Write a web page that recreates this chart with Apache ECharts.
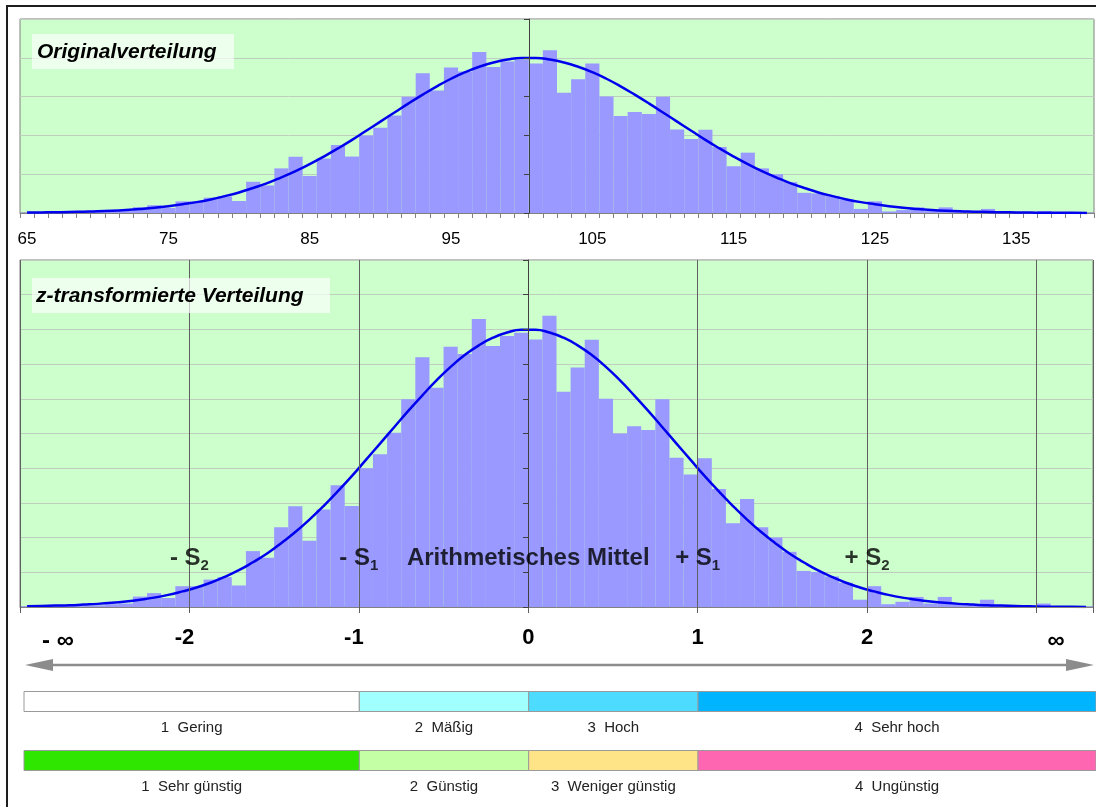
<!DOCTYPE html>
<html>
<head>
<meta charset="utf-8">
<script src="https://cdn.jsdelivr.net/npm/echarts@6/dist/echarts.min.js"></script>
<style>
html,body{margin:0;padding:0;background:#ffffff;}
#c{width:1096px;height:807px;}
</style>
</head>
<body>
<div id="c"></div>
<script>
// ---------- data ----------
const categories = [];
for (let v = 65; v <= 140; v++) categories.push(String(v));

const counts = [
  0.2, 0.2, 0.3, 0.3, 0.5, 0.5, 0.8, 1.0, 3.0, 4.0,
  2.6, 6.0, 6.0, 7.9, 8.6, 6.2, 16.1, 14.2, 23.0, 29.0,
  19.1, 28.1, 35.1, 29.1, 40.0, 44.0, 50.2, 59.9, 72.0, 63.2,
  75.0, 72.9, 83.0, 75.2, 78.1, 79.0, 77.1, 83.9, 62.0, 69.0,
  77.0, 60.0, 50.0, 52.1, 51.0, 59.9, 43.0, 38.2, 42.9, 34.0,
  24.1, 31.1, 23.0, 20.0, 15.9, 10.4, 10.1, 8.8, 7.0, 2.1,
  6.0, 0.8, 1.5, 2.9, 1.0, 2.9, 0.8, 0.5, 2.1, 0.5,
  0.2, 0.2, 1.0, 0.3, 0.2, 0.2
];

const normalCurve = [
  0.2, 0.3, 0.4, 0.5, 0.7, 0.9, 1.2, 1.6, 2.1, 2.7,
  3.5, 4.5, 5.6, 7.0, 8.7, 10.6, 12.9, 15.4, 18.4, 21.6,
  25.2, 29.1, 33.3, 37.7, 42.4, 47.1, 51.8, 56.5, 61.0, 65.3,
  69.2, 72.6, 75.4, 77.6, 79.1, 79.9, 79.9, 79.1, 77.6, 75.4,
  72.6, 69.2, 65.3, 61.0, 56.5, 51.8, 47.1, 42.4, 37.7, 33.3,
  29.1, 25.2, 21.6, 18.4, 15.4, 12.9, 10.6, 8.7, 7.0, 5.6,
  4.5, 3.5, 2.7, 2.1, 1.6, 1.2, 0.9, 0.7, 0.5, 0.4,
  0.3, 0.2, 0.1, 0.1, 0.1, 0.0
];

const zTickLabels = ['-2', '-1', '0', '1', '2'];
const annotZ = [-2, -1, 0, 1, 2];
const annotLevel = [14, 14, 14, 14, 14];
const annotText = ['- S', '- S', 'Arithmetisches Mittel', '+ S', '+ S'];
const annotSub = ['2', '1', '', '1', '2'];

const bandBounds = [-1, 0, 1];
const row1Labels = ['1  Gering', '2  Mäßig', '3  Hoch', '4  Sehr hoch'];
const row2Labels = ['1  Sehr günstig', '2  Günstig', '3  Weniger günstig', '4  Ungünstig'];

// ---------- styles ----------
const FONT = '"Liberation Sans", Arial, Helvetica, sans-serif';
const row1Colors = ['#ffffff', '#a0ffff', '#4ddcff', '#00b4ff'];
const row2Colors = ['#2ee600', '#c4ffa6', '#ffe487', '#ff66b2'];
const GRID_LINE = '#bfcfbf';
const BAR_COLOR = '#9999ff';
const CURVE_COLOR = '#0000ee';

// legend segments built from band bounds
const LEG_MIN = -2.98, LEG_MAX = 3.35;
const edges = [LEG_MIN].concat(bandBounds, [LEG_MAX]);
const legendData = [];
for (let r = 0; r < 2; r++) {
  for (let k = 0; k < 4; k++) {
    legendData.push([edges[k], edges[k + 1], r, k]);
  }
}

const chart = echarts.init(document.getElementById('c'), null, {renderer: 'canvas'});

const option = {
  backgroundColor: '#ffffff',
  animation: false,
  textStyle: {fontFamily: FONT},
  grid: [
    {left: 20, top: 19, width: 1074, height: 194, show: true, backgroundColor: '#ccffcc', borderColor: '#808080', borderWidth: 1},
    {left: 20, top: 260, width: 1074, height: 347, show: true, backgroundColor: '#ccffcc', borderColor: '#808080', borderWidth: 1},
    {left: 24, top: 672, width: 1072, height: 118, show: false}
  ],
  xAxis: [
    {
      gridIndex: 0, type: 'category', data: categories, boundaryGap: true, position: 'bottom',
      axisLine: {show: true, lineStyle: {color: '#808080', width: 1}},
      axisTick: {show: true, interval: 0, length: 5, lineStyle: {color: '#808080'}},
      axisLabel: {interval: 9, fontSize: 17, color: '#000', margin: 18, fontFamily: FONT},
      splitLine: {show: false}
    },
    {
      gridIndex: 1, type: 'category', data: categories, boundaryGap: true, position: 'top',
      axisLine: {show: false}, axisTick: {show: false}, axisLabel: {show: false}, splitLine: {show: false}
    },
    {
      gridIndex: 1, type: 'value', min: -3, max: 40 / 12, interval: 1, position: 'bottom', z: 5,
      axisLine: {show: true, lineStyle: {color: '#808080', width: 1}},
      axisTick: {show: true, length: 6, lineStyle: {color: '#606060'}},
      axisLabel: {
        margin: 20, color: '#000',
        formatter: function (v) {
          const i = annotZ.indexOf(Math.round(v));
          if (Math.abs(v - Math.round(v)) > 1e-6 || i < 0) return '';
          return (v < 0 ? '{n|' : '{p|') + zTickLabels[i] + '}';
        },
        rich: {
          n: {fontSize: 22, fontWeight: 'bold', color: '#000', fontFamily: FONT, padding: [0, 10, 0, 0]},
          p: {fontSize: 22, fontWeight: 'bold', color: '#000', fontFamily: FONT}
        }
      },
      splitLine: {show: true, lineStyle: {color: '#606060', width: 1}}
    },
    {gridIndex: 2, type: 'value', min: LEG_MIN, max: LEG_MAX, show: false, splitLine: {show: false}}
  ],
  yAxis: [
    {
      gridIndex: 0, type: 'value', min: 0, max: 100, interval: 20, position: 'left',
      axisLine: {show: false}, axisTick: {show: false}, axisLabel: {show: false},
      splitLine: {show: true, lineStyle: {color: GRID_LINE, width: 1}}
    },
    {
      gridIndex: 0, type: 'value', min: 0, max: 100, interval: 20, position: 'right', offset: -565, z: 6,
      axisLine: {show: true, lineStyle: {color: '#404040', width: 1}},
      axisTick: {show: true, inside: true, length: 5, lineStyle: {color: '#404040'}},
      axisLabel: {show: false}, splitLine: {show: false}
    },
    {
      gridIndex: 1, type: 'value', min: 0, max: 100, interval: 10, position: 'left',
      axisLine: {show: false}, axisTick: {show: false}, axisLabel: {show: false},
      splitLine: {show: true, lineStyle: {color: GRID_LINE, width: 1}}
    },
    {
      gridIndex: 1, type: 'value', min: 0, max: 100, interval: 10, position: 'right', offset: -565, z: 6,
      axisLine: {show: true, lineStyle: {color: '#404040', width: 1}},
      axisTick: {show: true, inside: true, length: 5, lineStyle: {color: '#404040'}},
      axisLabel: {show: false}, splitLine: {show: false}
    },
    {gridIndex: 2, type: 'category', data: ['Stufe', 'Bewertung'], inverse: true, show: false}
  ],
  series: [
    {
      type: 'bar', xAxisIndex: 0, yAxisIndex: 0, data: counts, barCategoryGap: '0%',
      itemStyle: {color: BAR_COLOR}, z: 2
    },
    {
      type: 'line', xAxisIndex: 0, yAxisIndex: 0, data: normalCurve, smooth: true, showSymbol: false, symbol: 'none',
      lineStyle: {color: CURVE_COLOR, width: 2.5}, z: 4
    },
    {
      type: 'bar', xAxisIndex: 1, yAxisIndex: 2, data: counts, barCategoryGap: '0%',
      itemStyle: {color: BAR_COLOR}, z: 2
    },
    {
      type: 'line', xAxisIndex: 1, yAxisIndex: 2, data: normalCurve, smooth: true, showSymbol: false, symbol: 'none',
      lineStyle: {color: CURVE_COLOR, width: 2.5}, z: 4
    },
    {
      type: 'scatter', xAxisIndex: 2, yAxisIndex: 2, symbolSize: 0, z: 10,
      data: annotZ.map(function (z, i) { return [z, annotLevel[i]]; }),
      label: {
        show: true, position: 'inside', color: '#000', textBorderWidth: 0,
        formatter: function (p) {
          const i = p.dataIndex;
          return annotSub[i] ? '{m|' + annotText[i] + '}{s|' + annotSub[i] + '}' : '{m|' + annotText[i] + '}';
        },
        rich: {
          m: {fontSize: 24, fontWeight: 'bold', color: '#000', fontFamily: FONT, lineHeight: 30, textBorderWidth: 0},
          s: {fontSize: 15, fontWeight: 'bold', color: '#000', fontFamily: FONT, lineHeight: 16, verticalAlign: 'bottom', textBorderWidth: 0}
        }
      }
    },
    {
      type: 'custom', xAxisIndex: 3, yAxisIndex: 4, data: legendData, clip: false,
      encode: {x: [0, 1], y: 2},
      renderItem: function (params, api) {
        const s = api.value(0), e = api.value(1), r = api.value(2), k = api.value(3);
        const p0 = api.coord([s, r]);
        const p1 = api.coord([e, r]);
        const h = 20;
        const fill = r === 0 ? row1Colors[k] : row2Colors[k];
        const label = r === 0 ? row1Labels[k] : row2Labels[k];
        return {
          type: 'group',
          children: [
            {type: 'rect', shape: {x: p0[0], y: p0[1] - h / 2, width: p1[0] - p0[0], height: h},
             style: {fill: fill, stroke: '#9a9a9a', lineWidth: 1}},
            {type: 'text', style: {text: label, x: (p0[0] + p1[0]) / 2, y: p0[1] + 26, align: 'center', verticalAlign: 'middle',
             fontSize: 15, fontFamily: FONT, fill: '#222'}}
          ]
        };
      }
    }
  ],
  graphic: [
    {type: 'rect', z: 100, silent: true, shape: {x: 7, y: 6, width: 1100, height: 820}, style: {fill: 'none', stroke: '#1e1e1e', lineWidth: 2}},
    {type: 'rect', z: 50, shape: {x: 32, y: 34, width: 202, height: 35}, style: {fill: 'rgba(255,255,255,0.65)'}},
    {type: 'text', z: 51, style: {text: 'Originalverteilung', x: 37, y: 52, verticalAlign: 'middle', fontSize: 21, fontWeight: 'bold', fontStyle: 'italic', fontFamily: FONT, fill: '#000'}},
    {type: 'rect', z: 50, shape: {x: 32, y: 278, width: 298, height: 35}, style: {fill: 'rgba(255,255,255,0.65)'}},
    {type: 'text', z: 51, style: {text: 'z-transformierte Verteilung', x: 36, y: 296, verticalAlign: 'middle', fontSize: 21, fontWeight: 'bold', fontStyle: 'italic', fontFamily: FONT, fill: '#000'}},
    {type: 'text', z: 50, style: {text: '- ∞', x: 58, y: 641, align: 'center', verticalAlign: 'middle', fontSize: 24, fontWeight: 'bold', fontFamily: FONT, fill: '#000'}},
    {type: 'text', z: 50, style: {text: '∞', x: 1056, y: 641, align: 'center', verticalAlign: 'middle', fontSize: 24, fontWeight: 'bold', fontFamily: FONT, fill: '#000'}},
    {type: 'line', z: 50, shape: {x1: 50, y1: 665, x2: 1068, y2: 665}, style: {stroke: '#8c8c8c', lineWidth: 2.5}},
    {type: 'polygon', z: 50, shape: {points: [[25, 665], [53, 659], [53, 671]]}, style: {fill: '#8c8c8c'}},
    {type: 'polygon', z: 50, shape: {points: [[1094, 665], [1066, 659], [1066, 671]]}, style: {fill: '#8c8c8c'}}
  ]
};

chart.setOption(option);
</script>
</body>
</html>
